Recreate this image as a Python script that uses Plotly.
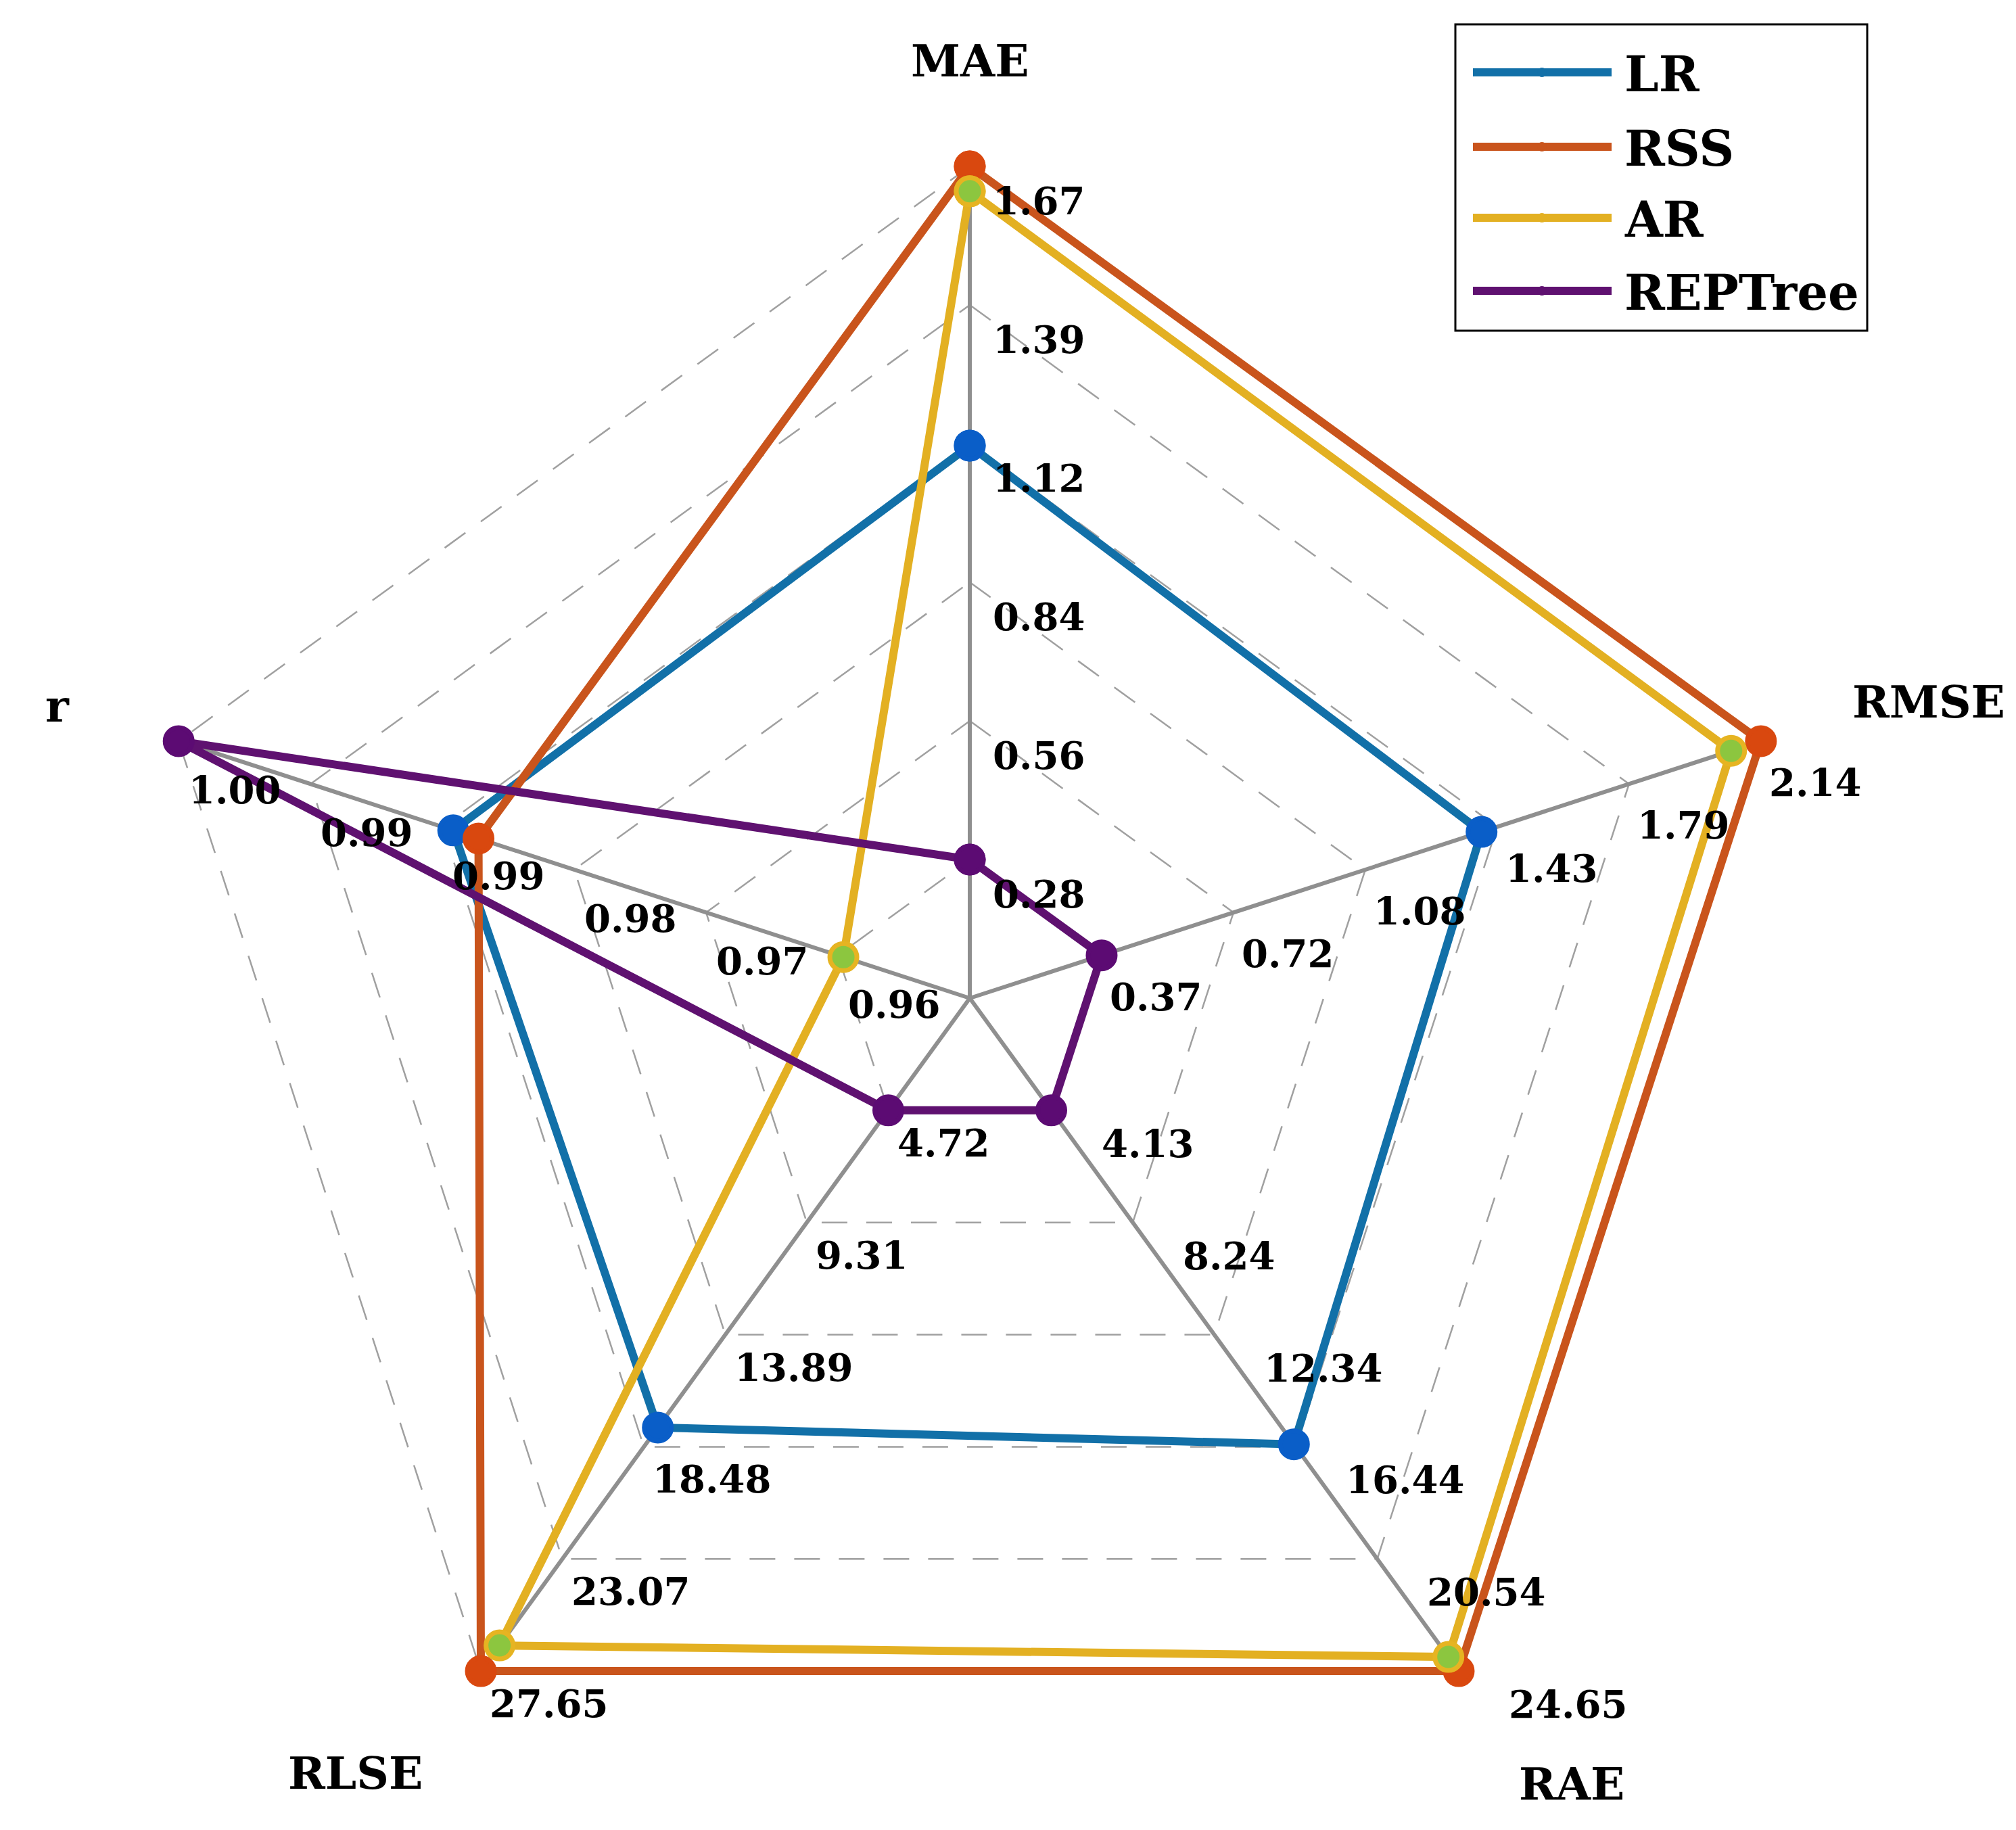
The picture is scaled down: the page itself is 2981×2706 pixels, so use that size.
import numpy as np
import plotly.graph_objects as go

# axes of the spider plot (clockwise from the top)
axes_names = ["MAE", "RMSE", "RAE", "RLSE", "r"]
axis_min = [0.28, 0.37, 4.13, 4.72, 0.963]
axis_max = [1.67, 2.14, 24.65, 27.65, 0.9995]

tick_labels = [
    ["0.28", "0.56", "0.84", "1.12", "1.39", "1.67"],
    ["0.37", "0.72", "1.08", "1.43", "1.79", "2.14"],
    ["4.13", "8.24", "12.34", "16.44", "20.54", "24.65"],
    ["4.72", "9.31", "13.89", "18.48", "23.07", "27.65"],
    ["0.96", "0.97", "0.98", "0.99", "0.99", "1.00"],
]

models = ["LR", "RSS", "AR", "REPTree"]
lr = [1.11, 1.39, 16.35, 17.69, 0.9843]
rss = [1.67, 2.14, 24.65, 27.65, 0.9829]
ar = [1.62, 2.06, 24.13, 26.60, 0.9627]
reptree = [0.28, 0.37, 4.13, 4.72, 0.9995]

line_colors = ["#1270a8", "#c9541c", "#e3b022", "#5f1170"]
marker_colors = ["#0a5ec8", "#d9480f", "#8cc63f", "#5c0b73"]
marker_edges = ["#0a5ec8", "#d9480f", "#e6b422", "#5c0b73"]

# page geometry
W, H = 2981, 2706
CX, CY, R = 1426, 1468, 1230
N_RINGS = 6
FONT = "DejaVu Serif"

n_ax = len(axes_names)
theta = np.deg2rad(90 - 72 * np.arange(n_ax))


def to_norm(values):
    """value -> radius in [0, 1]; centre sits one ring-step below the axis minimum"""
    out = []
    for v, lo, hi in zip(values, axis_min, axis_max):
        centre = lo - (hi - lo) / (N_RINGS - 1)
        out.append((v - centre) / (hi - centre))
    return np.array(out)


def xy(rad):
    rad = np.asarray(rad, dtype=float)
    return rad * np.cos(theta), rad * np.sin(theta)


fig = go.Figure()

# dashed rings
gx, gy = [], []
for k in range(1, N_RINGS + 1):
    x, y = xy(np.full(n_ax, k / N_RINGS))
    gx += list(x) + [x[0], None]
    gy += list(y) + [y[0], None]
fig.add_trace(go.Scatter(x=gx, y=gy, mode="lines", hoverinfo="skip",
                         line=dict(color="#a0a0a0", width=2.5, dash="38px,28px")))

# spokes
sx, sy = [], []
ox, oy = xy(np.ones(n_ax))
for i in range(n_ax):
    sx += [0, ox[i], None]
    sy += [0, oy[i], None]
fig.add_trace(go.Scatter(x=sx, y=sy, mode="lines", hoverinfo="skip",
                         line=dict(color="#8f8f8f", width=6)))

# model polygons
for name, vals, lc, mc, me in zip(models, [lr, rss, ar, reptree],
                                  line_colors, marker_colors, marker_edges):
    x, y = xy(to_norm(vals))
    fig.add_trace(go.Scatter(
        x=list(x) + [x[0]], y=list(y) + [y[0]],
        mode="lines+markers", name=name,
        line=dict(color=lc, width=12),
        marker=dict(size=40, color=mc, line=dict(color=me, width=7)),
    ))

# ring value labels
label_shift = [(32, -51), (10, -61), (72, -49), (11, -48), (13, -72)]
for i in range(n_ax):
    for k in range(1, N_RINGS + 1):
        r = k / N_RINGS
        fig.add_annotation(
            x=r * np.cos(theta[i]), y=r * np.sin(theta[i]),
            text="<b>%s</b>" % tick_labels[i][k - 1], showarrow=False,
            xanchor="left", yanchor="middle",
            xshift=label_shift[i][0], yshift=label_shift[i][1],
            font=dict(family=FONT, size=56, color="black"),
        )

# axis titles
title_r = [1.12, 1.21, 1.19, 1.19, 1.15]
title_shift = [(0, 8), (3, -22), (30, 22), (-48, 38), (-4, -5)]
for i, name in enumerate(axes_names):
    fig.add_annotation(
        x=title_r[i] * np.cos(theta[i]), y=title_r[i] * np.sin(theta[i]),
        text="<b>%s</b>" % name, showarrow=False,
        xanchor="center", yanchor="middle",
        xshift=title_shift[i][0], yshift=title_shift[i][1],
        font=dict(family=FONT, size=66, color="black"),
    )


# legend box drawn by hand (MATLAB style long line samples)
def px(xp):
    return xp / W


def py(yp):
    return 1 - yp / H


fig.add_shape(type="rect", xref="paper", yref="paper",
              x0=px(2144), x1=px(2753), y0=py(481), y1=py(28),
              line=dict(color="black", width=3), fillcolor="white", layer="above")
rows = [99, 209, 314, 422]
for name, yy, lc in zip(models, rows, line_colors):
    fig.add_shape(type="line", xref="paper", yref="paper",
                  x0=px(2170), x1=px(2375), y0=py(yy), y1=py(yy),
                  line=dict(color=lc, width=12), layer="above")
    fig.add_shape(type="circle", xref="paper", yref="paper",
                  x0=px(2266), x1=px(2278), y0=py(yy + 6), y1=py(yy - 6),
                  line=dict(color=lc, width=2), fillcolor=lc, layer="above")
    fig.add_annotation(xref="paper", yref="paper", x=px(2392), y=py(yy + 2),
                       text="<b>%s</b>" % name, showarrow=False,
                       xanchor="left", yanchor="middle",
                       font=dict(family=FONT, size=72, color="black"))

fig.update_layout(
    width=W, height=H,
    margin=dict(l=0, r=0, t=0, b=0),
    paper_bgcolor="white", plot_bgcolor="white",
    showlegend=False,
    xaxis=dict(range=[-CX / R, (W - CX) / R], visible=False, fixedrange=True),
    yaxis=dict(range=[-(H - CY) / R, CY / R], visible=False, fixedrange=True),
)

fig.write_html("out.html")
